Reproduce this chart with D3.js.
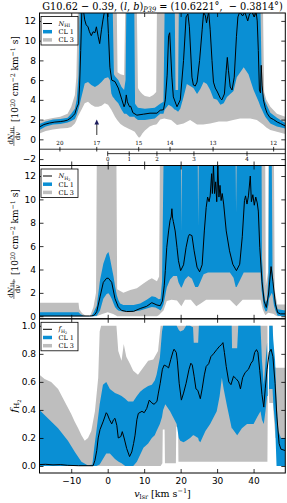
<!DOCTYPE html>
<html>
<head>
<meta charset="utf-8">
<script src="https://cdn.jsdelivr.net/npm/d3@7"></script>
<style>
  body { margin: 0; background: #fff; }
  svg { display: block; }
  text { white-space: pre; }
</style>
</head>
<body>
<div id="chart"></div>
<script>
// ---- data ----
const xDomain = [-18.7, 48.7];
const xTicks = [-10, 0, 10, 20, 30, 40];
const hiTicks = [-2, 0, 2, 4, 6, 8, 10, 12];
const h2Ticks = [0, 2, 4, 6, 8, 10, 12];
const fTicks = [0, 0.2, 0.4, 0.6, 0.8, 1.0];

// secondary scales drawn inside the top panel (label, velocity)
const outerLabels = [20, 17, 15, 14, 13, 12];
const outerV = [-13.1, -3.0, 8.5, 17.1, 28.9, 45.5];
const innerLabels = [0, 1, 2, 3, 4];
const innerV = [0, 5.9, 13.5, 23.65, 38.2];
const arrowV = -3.0, arrowFrom = 0.45, arrowTo = 2.0;

// dN_HI/dv
const hiLineV = [-18.7,-17.5,-16,-14.5,-13,-12,-11,-10,-9.5,-9,
  -8.5,-8,-7.7,-7.4,-7.1,-6.6,-6.3,-5.9,-5.4,-5,
  -4.5,-4,-3.5,-3.1,-2.6,-2.2,-1.7,-1.3,-0.9,-0.1,
  0.2,0.6,1.1,2,2.9,3.9,4.5,4.8,5.1,5.4,
  6,6.3,6.9,8,9.8,11.6,13.5,14.4,15.3,15.8,
  16.3,16.7,17,17.6,18,19,19.9,20.8,21.5,22,
  22.4,23.1,23.5,24,24.5,25.2,25.9,26.3,26.8,27.1,
  27.4,27.7,28.1,28.6,29,29.5,30.1,30.9,31.3,32,
  32.5,32.8,33.1,33.6,34.1,34.7,35.3,35.7,36.2,37,
  37.6,38.4,38.9,39.5,40.2,40.7,41,41.3,41.6,41.9,
  42.1,42.35,42.7,43.2,43.7,44.5,45.5,46.5,47.4,48.7];
const hiLine = [1.25,1.5,1.65,1.75,1.8,1.85,1.95,2.2,2.4,2.6,
  3.2,3.6,5.5,9,12.9,12.9,12.1,11.6,11.4,10.9,
  10.5,10.9,10.8,11.4,10.4,9.7,11.1,12.1,12.9,12.9,
  10.7,7.3,6,5.85,5.2,4,3.3,3.6,4.5,3.8,
  3.3,3.35,2.7,2.45,2.55,2.65,2.65,2.95,3,4,
  6.5,10.5,10.8,6.3,4.3,3.3,4,8,12.4,12.7,
  11.4,6.3,5.5,5.4,5.8,8,11.1,12.9,12.5,11.8,
  12.4,12.9,11.1,8,5.8,5.2,4.8,4.15,4,4.6,
  7,8.3,7,5.3,5,6.3,10.4,12.4,12.9,12.5,
  12.9,12,12.7,12.9,12.4,12.9,12,9,5,4.7,
  7.5,5.5,4,3.2,2.65,2.2,2,1.75,1.6,1.35];
// [v, low, high]
const hiCl3 = [[-18.7,0.6,1.8],[-17,0.85,2.0],[-15,1.0,2.15],[-13,1.1,2.3],[-11,1.15,2.6],[-10,1.25,3.3],
  [-9,1.6,4.5],[-8.6,1.9,6.3],[-8.2,2.3,12.9],[-7.2,3.0,12.9],[-6.3,3.65,12.9],[-5.4,3.8,12.9],[-4.5,3.5,12.9],
  [-3.5,3.3,12.9],[-2.6,3.3,12.9],[-1.7,3.4,12.9],[-0.8,3.65,12.9],[0.1,3.5,12.9],[1.0,3.0,12.9],[2.0,2.3,12.9],
  [2.5,2.0,12.9],[2.7,1.9,6.8],[3.5,1.55,6.6],[4.5,1.3,6.5],[4.8,1.25,12.9],[5.6,1.1,12.9],[6.5,0.94,12.9],
  [7.4,0.77,12.9],[8.0,0.45,12.9],[8.3,0.3,5.2],[8.6,0.15,5.0],[9.0,0.3,4.8],[9.5,0.6,4.6],[10.2,0.9,4.4],
  [11.5,1.3,4.3],[12.5,1.45,4.5],[13.3,1.5,4.8],[13.5,1.55,12.9],[14.4,2.0,12.9],[15.5,2.1,12.9],[17.4,1.95,12.9],
  [19.0,1.45,12.9],[20.8,1.6,12.9],[22.6,1.95,12.9],[24.5,1.5,12.9],[26.2,1.5,12.9],[28.1,1.6,12.9],[30.5,1.8,12.9],
  [32.7,1.8,12.9],[34.4,1.95,12.9],[36.3,2.1,12.9],[39.1,2.1,12.9],[40.9,1.95,12.9],[42.6,1.5,12.9],[42.9,1.4,4.8],
  [43.5,1.2,4.0],[44.6,0.94,3.3],[46.4,0.77,2.6],[48.7,0.55,2.3]];
const hiCl1 = [[-18.7,0.95,1.55],[-17,1.3,1.8],[-15,1.5,2.0],[-13,1.55,2.05],[-11,1.7,2.2],[-10,1.85,2.6],
  [-9,2.05,3.1],[-8.5,2.5,4.0],[-8.0,3.1,6.5],[-7.7,3.5,12.9],[-7.2,4.3,12.9],[-6.3,5.67,12.9],[-5.4,5.8,12.9],
  [-4.5,5.5,12.9],[-3.5,5.3,12.9],[-2.6,5.5,12.9],[-1.7,5.8,12.9],[-0.8,6.2,12.9],[0.1,6.3,12.9],[0.6,6.0,12.9],
  [1.0,4.65,12.9],[1.4,4.3,12.9],[1.7,4.2,6.6],[2.0,4.0,6.4],[2.9,3.65,6.0],[3.8,3.0,5.3],[4.5,2.6,5.0],
  [4.9,2.6,6.0],[5.1,2.6,12.9],[6.0,2.3,12.9],[7.3,2.3,12.9],[7.5,2.2,3.6],[8.3,1.95,3.2],[10.2,1.95,3.1],
  [12.9,2.1,3.2],[14.4,2.6,3.6],[15.3,2.6,3.8],[15.6,3.0,12.9],[16.7,3.5,12.9],[17.6,3.3,12.9],[18.4,3.0,12.9],
  [18.6,3.0,5.0],[19.3,2.8,5.0],[19.5,2.9,12.9],[19.9,3.1,12.9],[20.8,4.3,12.9],[21.7,5.6,12.9],[23.5,5.2,12.9],
  [24.5,4.6,12.9],[25.4,5.1,12.9],[26.3,5.8,12.9],[27.2,5.6,12.9],[28.1,5.0,12.9],[29.0,4.15,12.9],[30.0,4.0,12.9],
  [30.9,3.5,12.9],[31.8,3.65,12.9],[32.7,4.3,12.9],[33.6,4.6,12.9],[34.5,4.9,12.9],[35.4,6.3,12.9],[37.3,7.3,12.9],
  [38.6,6.6,12.9],[40.0,5.0,12.9],[41.4,3.8,12.9],[41.9,3.3,12.9],[42.3,3.0,5.0],[42.8,2.6,4.4],[43.2,2.3,3.8],
  [44.6,1.6,2.7],[46.4,1.3,2.2],[48.7,1.1,1.65]];

// dN_H2/dv
const h2LineV = [-18.7,-10,-5,-4.5,-4,-3.5,-3,-2.1,-1.2,-0.3,
  0.2,1.1,2.0,2.9,3.8,5.2,7.1,8.9,10.7,12.1,
  13.5,14.4,15,15.5,15.8,16.2,16.7,17.1,17.4,17.6,
  17.8,18,18.5,19,19.4,20,20.8,21.5,22.1,22.4,
  23.1,23.7,24.5,25.2,25.9,26.5,27,27.4,27.8,28.1,
  28.5,28.7,29,29.3,29.6,29.9,30.2,30.5,30.8,31.1,
  31.4,31.8,32.5,33.4,34.3,35.3,36.2,36.9,37.5,37.8,
  38.2,38.6,39.1,39.4,39.8,40.2,40.6,41,41.3,41.7,
  42.3,42.9,43.5,44.1,44.8,45.3,46,46.6,47.4,48.7];
const h2Line = [0.02,0.02,0.02,0.03,0.05,0.15,0.4,1.66,2.9,3.25,
  3.25,2.9,1.5,0.8,0.5,0.4,0.42,0.66,0.85,1.16,
  0.96,0.9,1.3,2.6,3.9,5.9,7.3,8.2,8.5,9.2,
  8.4,8.1,7.3,5.9,4.75,3.9,4.4,5.9,6.8,7.0,
  6.9,5.6,4.2,3.8,4.4,7.3,9.3,10.2,9.8,10.3,
  12.2,10.5,12.9,10.5,11.5,9.8,12.9,10.2,11.2,9.9,
  10.5,9.6,7.3,5.6,4.45,3.9,4.45,6.8,9.9,10.3,
  9.6,10.3,12.0,9.8,10.4,9.5,10.2,9.7,9.0,5.9,
  3.0,1.3,0.75,1.9,4.25,3.0,1.03,0.31,0.2,0.2];
const h2Cl3 = [[-18.7,0,1.15],[-8.0,0,1.15],[-7.8,0,0.6],[-7.0,0,0.25],[-6.0,0,0.05],[-4.8,0,0.05],
  [-3.9,0,0.8],[-3.2,0,2.0],[-3.0,0,12.9],[-1.5,0.2,12.9],[0.0,0.35,12.9],[1.5,0.2,12.9],[2.4,0.05,12.9],
  [2.6,0,2.3],[4.3,0,2.0],[6.2,0,2.25],[8.0,0,2.4],[9.8,0,2.8],[11.2,0,3.1],[12.1,0,3.25],[13.5,0,3.0],
  [14.1,0.1,3.4],[14.3,0.2,12.9],[15.3,0.5,12.9],[16.2,1.3,12.9],[17.5,1.4,12.9],[19.0,1.35,12.9],
  [20.2,0.85,12.9],[21.2,1.4,12.9],[22.8,1.4,12.9],[24.3,0.85,12.9],[25.5,1.1,12.9],[27.0,1.4,12.9],
  [33.5,1.4,12.9],[35.3,0.85,12.9],[37.0,1.4,12.9],[41.9,1.4,12.9],[42.5,0.6,12.9],[42.9,0.3,12.9],
  [43.2,0.1,12.9],[43.35,0.1,2.6],[44.0,0.3,3.8],[44.1,0.3,12.9],[45.6,0.2,12.9],[45.8,0.1,2.2],
  [46.5,0,1.0],[48.7,0,1.0]];
const h2Cl1 = [[-18.7,0,0.35],[-8,0,0.35],[-7.5,0,0.2],[-6.5,0,0.03],[-4.5,0,0.03],[-3.9,0,0.3],
  [-3.0,0.05,0.9],[-2.1,0.5,3.1],[-1.2,1.5,4.5],[-0.3,1.9,5.3],[0.2,1.96,5.5],[0.6,1.8,5.0],[1.1,1.5,4.2],
  [1.6,1.1,3.4],[2.0,0.8,2.6],[2.5,0.6,1.8],[2.9,0.5,1.4],[3.4,0.45,1.1],[4.3,0.4,0.96],[7.1,0.4,0.96],
  [8.9,0.5,1.1],[10.7,0.66,1.4],[12.1,0.8,1.7],[13.1,0.75,1.65],[14.0,0.6,1.45],[14.5,0.5,1.5],
  [14.9,0.7,3.0],[15.3,1.0,12.9],[16.2,2.45,12.9],[17.1,3.15,12.9],[18.0,3.45,12.9],[19.0,3.45,12.9],
  [19.4,2.9,12.9],[20.1,2.45,12.9],[20.2,2.45,7.3],[20.35,2.5,12.9],[21.2,3.15,12.9],[22.1,3.45,12.9],
  [23.1,3.2,12.9],[24.0,2.5,12.9],[24.7,2.5,12.9],[24.8,2.55,7.7],[24.95,2.6,12.9],[26.3,3.6,12.9],
  [27.5,3.75,12.9],[33.5,3.75,12.9],[34.5,3.3,12.9],[35.1,2.5,12.9],[35.2,2.5,8.9],[35.35,2.5,12.9],
  [36.3,3.1,12.9],[37.3,3.75,12.9],[41.9,3.75,12.9],[42.2,2.2,12.9],[42.3,2.0,5.0],[42.8,0.8,2.2],
  [43.3,0.4,1.2],[43.7,0.45,1.4],[44.1,1.0,3.5],[44.2,1.5,12.9],[45.0,2.0,12.9],[45.2,1.8,4.0],
  [45.6,0.9,2.0],[46.0,0.5,1.3],[46.6,0.05,0.6],[48.7,0,0.5]];

// f_H2
const fLineV = [-18.7,-17,-15,-13,-11,-8,-4,-3.5,-3,-2.6,
  -2.1,-1.2,-0.4,-0.1,0.5,1.1,1.6,2,2.5,2.9,
  3.6,4,4.5,5.2,6,6.6,7.1,7.5,8,8.4,
  9.4,10,10.7,11.4,12.1,12.7,13.5,13.9,14.4,15,
  15.5,16.2,16.7,17.3,17.9,18.2,18.8,19.1,19.6,20.2,
  20.8,21.5,22.3,22.8,23.2,23.7,24.2,24.7,25.4,25.9,
  26.5,27,27.7,28.3,29,29.9,30.7,31.2,31.6,32,
  32.5,33.2,33.8,34.5,35.3,35.9,36.4,37,37.7,38.6,
  39.3,39.8,40.3,40.8,41.2,41.7,42.3,42.8,43.2,43.7,
  44.3,44.8,45.3,45.9,46.4,47,47.5,48.7];
const fLine = [0.01,0.012,0.008,0.01,0.005,0.002,0.002,0.04,0.11,0.2,
  0.26,0.32,0.38,0.37,0.33,0.3,0.33,0.34,0.29,0.2,
  0.21,0.245,0.2,0.125,0.067,0.1,0.16,0.22,0.33,0.375,
  0.39,0.38,0.41,0.47,0.45,0.44,0.46,0.52,0.59,0.69,
  0.72,0.71,0.7,0.76,0.815,0.833,0.81,0.75,0.59,0.47,
  0.52,0.59,0.69,0.733,0.72,0.64,0.55,0.54,0.48,0.55,
  0.65,0.71,0.73,0.78,0.8,0.83,0.855,0.865,0.88,0.81,
  0.71,0.6,0.58,0.64,0.62,0.6,0.55,0.63,0.667,0.69,
  0.733,0.75,0.81,0.83,0.81,0.68,0.51,0.42,0.55,0.69,
  0.81,0.833,0.78,0.59,0.35,0.16,0.12,0.11];
const fCl3 = [[-18.7,0,0.65],[-17.3,0,0.62],[-15.5,0,0.6],[-13.6,0,0.55],[-11.8,0,0.46],[-10.0,0,0.37],
  [-9.1,0,0.32],[-8.1,0,0.27],[-7.2,0,0.22],[-6.3,0,0.18],[-5.4,0,0.2],[-4.5,0,0.25],[-3.5,0,0.39],
  [-2.6,0,0.63],[-2.2,0,0.96],[-1.8,0,1.0],[2.4,0,1.0],[2.9,0,0.82],[3.8,0,0.75],[4.4,0,0.87],[5.1,0,0.78],
  [6.1,0,0.73],[7.0,0,0.68],[8.3,0,0.65],[9.7,0,0.7],[11.1,0,0.75],[12.5,0,0.76],[13.8,0,0.82],[14.5,0,1.0],
  [15.0,0.02,1.0],[15.1,0.26,1.0],[15.6,0.26,1.0],[15.7,0.02,1.0],[18.7,0.02,1.0],[18.8,0.28,1.0],
  [19.3,0.28,1.0],[19.4,0.03,1.0],[43.8,0.03,1.0],[43.9,0.5,0.5],[44.2,0.5,0.5],[44.3,0.45,1.0],
  [45.3,0.45,1.0],[45.4,0.4,0.75],[46.0,0.2,0.7],[48.7,0.2,0.7]];
const fCl1 = [[-18.7,0,0.4],[-16.4,0,0.34],[-13.6,0,0.27],[-10.9,0,0.18],[-9.0,0,0.1],[-7.2,0,0.03],
  [-5.4,0,0.003],[-4.2,0,0.01],[-3.7,0,0.13],[-3.1,0,0.25],[-2.2,0.01,0.44],[-1.3,0.05,0.58],[-0.4,0.09,0.6],
  [0.6,0.09,0.55],[2.0,0.05,0.52],[3.0,0.03,0.51],[3.8,0.02,0.5],[4.8,0,0.48],[5.6,0,0.46],[7.0,0,0.46],
  [8.0,0.03,0.5],[8.9,0.08,0.53],[9.8,0.13,0.55],[11.1,0.16,0.57],[12.1,0.2,0.58],[12.9,0.22,0.61],
  [13.4,0.25,0.65],[14.3,0.3,0.77],[14.9,0.35,0.96],[15.2,0.4,1.0],[15.8,0.44,1.0],[17.1,0.39,1.0],
  [18.9,0.3,1.0],[19.5,0.2,0.97],[19.9,0.18,0.96],[20.8,0.17,0.97],[21.5,0.18,1.0],[22.6,0.2,1.0],
  [23.4,0.22,0.99],[23.6,0.22,0.88],[24.8,0.2,0.88],[25.0,0.18,1.0],[25.4,0.17,1.0],[26.8,0.25,1.0],
  [28.1,0.3,1.0],[29.9,0.39,1.0],[30.7,0.5,1.0],[31.3,0.63,1.0],[31.8,0.55,1.0],[32.7,0.43,1.0],
  [34.0,0.27,1.0],[34.1,0.27,0.84],[35.5,0.22,0.84],[35.8,0.23,1.0],[36.8,0.27,1.0],[38.2,0.3,1.0],
  [40.0,0.3,1.0],[41.0,0.35,1.0],[41.9,0.39,1.0],[42.3,0.33,0.75],[42.8,0.3,0.58],[43.3,0.4,0.75],
  [43.7,0.5,0.88],[43.9,0.5,0.5],[44.2,0.5,0.5],[44.3,0.55,1.0],[45.2,0.55,1.0],[45.4,0.45,0.9],
  [45.9,0.3,0.75],[46.3,0,0.45],[46.8,0,0.25],[47.5,0,0.2],[48.7,0,0.2]];

// ---- layout ----
const W = 287, H = 503;
const left = 39.5, right = 285.3;
const blue = "#0a8fd4", grey = "#bebebe";
const serif = "DejaVu Serif";

const panels = [
  { top: 13, bottom: 165.5, domain: [-2.65, 12.8], ticks: hiTicks, fmt: d3.format("d"),
    cl3: hiCl3, cl1: hiCl1, lineV: hiLineV, line: hiLine },
  { top: 165.5, bottom: 318.8, domain: [-0.22, 12.9], ticks: h2Ticks, fmt: d3.format("d"),
    cl3: h2Cl3, cl1: h2Cl1, lineV: h2LineV, line: h2Line },
  { top: 318.8, bottom: 473, domain: [-0.05, 1.05], ticks: fTicks, fmt: d3.format(".1f"),
    cl3: fCl3, cl1: fCl1, lineV: fLineV, line: fLine }
];

const svg = d3.select("#chart").append("svg")
    .attr("width", W)
    .attr("height", H)
    .attr("font-family", "DejaVu Sans");

const x = d3.scaleLinear().domain(xDomain).range([left, right]);

panels.forEach(function (p, i) {
    let y = d3.scaleLinear().domain(p.domain).range([p.bottom, p.top]);
    p.y = y;

    svg.append("clipPath").attr("id", "clip" + i)
        .append("rect")
        .attr("x", left).attr("y", p.top)
        .attr("width", right - left).attr("height", p.bottom - p.top);

    let plot = svg.append("g").attr("clip-path", "url(#clip" + i + ")");

    let band = d3.area()
        .x(d => x(d[0]))
        .y0(d => y(d[1]))
        .y1(d => y(d[2]));

    plot.append("path").datum(p.cl3).attr("d", band).attr("fill", grey);
    plot.append("path").datum(p.cl1).attr("d", band).attr("fill", blue);
    plot.append("path")
        .datum(d3.zip(p.lineV, p.line))
        .attr("d", d3.line().x(d => x(d[0])).y(d => y(d[1])))
        .attr("fill", "none")
        .attr("stroke", "#000")
        .attr("stroke-width", 1)
        .attr("stroke-linejoin", "round");

    // ticks on all four sides, pointing inward
    let isLast = i === panels.length - 1;
    let axes = [
        [d3.axisLeft(y).tickValues(p.ticks).tickFormat(p.fmt).tickPadding(3.5), "translate(" + left + ",0)"],
        [d3.axisRight(y).tickValues(p.ticks).tickFormat(""), "translate(" + right + ",0)"],
        [d3.axisTop(x).tickValues(xTicks).tickFormat(""), "translate(0," + p.top + ")"],
        [d3.axisBottom(x).tickValues(xTicks).tickFormat(isLast ? d3.format("d") : "").tickPadding(5),
            "translate(0," + p.bottom + ")"]
    ];
    axes.forEach(function (a) {
        let g = svg.append("g")
            .attr("transform", a[1])
            .call(a[0].tickSizeInner(-4).tickSizeOuter(0));
        g.select(".domain").remove();
        g.selectAll(".tick line").attr("stroke", "#000").attr("stroke-width", 0.8);
        g.selectAll("text").attr("font-size", 9).attr("fill", "#000").attr("font-family", "DejaVu Sans");
    });

    svg.append("rect")
        .attr("x", left).attr("y", p.top)
        .attr("width", right - left).attr("height", p.bottom - p.top)
        .attr("fill", "none")
        .attr("stroke", "#000")
        .attr("stroke-width", 1);
});

// ---- extra scales and arrow in the top panel ----
let y1 = panels[0].y;
let scaleG = svg.append("g").attr("font-family", serif).attr("font-size", 5.6);
scaleG.append("line")
    .attr("x1", left).attr("x2", right)
    .attr("y1", y1(-1.0)).attr("y2", y1(-1.0))
    .attr("stroke", "#000").attr("stroke-width", 0.8);
outerV.forEach(function (v, k) {
    scaleG.append("line")
        .attr("x1", x(v)).attr("x2", x(v))
        .attr("y1", y1(-1.0) - 2.3).attr("y2", y1(-1.0) + 2.3)
        .attr("stroke", "#000").attr("stroke-width", 0.8);
    scaleG.append("text")
        .attr("x", x(v)).attr("y", y1(-1.0) - 4)
        .attr("text-anchor", "middle")
        .text(outerLabels[k]);
});
scaleG.append("line")
    .attr("x1", x(innerV[0])).attr("x2", right)
    .attr("y1", y1(-1.45)).attr("y2", y1(-1.45))
    .attr("stroke", "#000").attr("stroke-width", 0.8);
innerV.forEach(function (v, k) {
    scaleG.append("line")
        .attr("x1", x(v)).attr("x2", x(v))
        .attr("y1", y1(-1.45) - 2.3).attr("y2", y1(-1.45) + 2.3)
        .attr("stroke", "#000").attr("stroke-width", 0.8);
    scaleG.append("text")
        .attr("x", x(v)).attr("y", y1(-1.45) + 7.5)
        .attr("text-anchor", "middle")
        .text(innerLabels[k]);
});

svg.append("line")
    .attr("x1", x(arrowV)).attr("x2", x(arrowV))
    .attr("y1", y1(arrowFrom)).attr("y2", y1(arrowTo) + 4)
    .attr("stroke", "#555").attr("stroke-width", 1.2);
svg.append("path")
    .attr("d", "M" + x(arrowV) + "," + y1(arrowTo) + "l-2.3,5h4.6z")
    .attr("fill", "#1c1c5e");

// ---- legends ----
function legend(p, kind) {
    let g = svg.append("g")
        .attr("transform", "translate(" + (left + 1.5) + "," + (p.top + 3.5) + ")")
        .attr("font-family", serif)
        .attr("font-size", 6.5);
    g.append("rect")
        .attr("width", 37).attr("height", 28.5)
        .attr("fill", "#fff").attr("stroke", "#000").attr("stroke-width", 0.8);
    let rows = [["#000", 1], [blue, 3.5], [grey, 3.5]];
    rows.forEach(function (r, k) {
        let yy = 7 + k * 8.2;
        g.append("line")
            .attr("x1", 2).attr("x2", 11).attr("y1", yy).attr("y2", yy)
            .attr("stroke", r[0]).attr("stroke-width", r[1]);
    });
    let t = g.append("text").attr("x", 17.5).attr("y", 9.2);
    if (kind === "f") {
        t.append("tspan").attr("font-style", "italic").text("f");
    } else {
        t.append("tspan").attr("font-style", "italic").text("N");
    }
    if (kind === "HI") {
        t.append("tspan").attr("font-size", 4.6).attr("dy", 1.4).text("HI");
    } else {
        t.append("tspan").attr("font-size", 4.6).attr("dy", 1.4).text("H");
        t.append("tspan").attr("font-size", 3.4).attr("dy", 1).text("2");
    }
    g.append("text").attr("x", 17.5).attr("y", 7 + 8.2 + 2.3).text("CL 1");
    g.append("text").attr("x", 17.5).attr("y", 7 + 16.4 + 2.3).text("CL 3");
}
legend(panels[0], "HI");
legend(panels[1], "H2");
legend(panels[2], "f");

// ---- axis labels ----
function densityLabel(cy, kind) {
    let g = svg.append("g")
        .attr("transform", "translate(18," + cy + ") rotate(-90)")
        .attr("font-family", serif);
    let num = g.append("text").attr("x", -47).attr("y", -5.3)
        .attr("text-anchor", "middle").attr("font-size", 7);
    num.append("tspan").text("d");
    num.append("tspan").attr("font-style", "italic").text("N");
    if (kind === "HI") {
        num.append("tspan").attr("font-size", 5).attr("dy", 1.5).text("HI");
    } else {
        num.append("tspan").attr("font-size", 5).attr("dy", 1.5).text("H");
        num.append("tspan").attr("font-size", 3.8).attr("dy", 1).text("2");
    }
    g.append("line")
        .attr("x1", -57).attr("x2", -37).attr("y1", -4.1).attr("y2", -4.1)
        .attr("stroke", "#000").attr("stroke-width", 0.5);
    let den = g.append("text").attr("x", -47).attr("y", 1.6)
        .attr("text-anchor", "middle").attr("font-size", 7);
    den.append("tspan").text("d");
    den.append("tspan").attr("font-style", "italic").text("v");

    let br = g.append("text").attr("x", -33).attr("y", 0).attr("font-size", 9);
    br.append("tspan").text("[10");
    br.append("tspan").attr("font-size", 6.3).attr("dy", -3.5).text("20");
    br.append("tspan").attr("dy", 3.5).text(" cm");
    br.append("tspan").attr("font-size", 6.3).attr("dy", -3.5).text("\u22122");
    br.append("tspan").attr("dy", 3.5).text(" km");
    br.append("tspan").attr("font-size", 6.3).attr("dy", -3.5).text("\u22121");
    br.append("tspan").attr("dy", 3.5).text(" s]");
}
densityLabel(89, "HI");
densityLabel(242, "H2");

let fl = svg.append("text")
    .attr("transform", "translate(17,406) rotate(-90)")
    .attr("text-anchor", "middle")
    .attr("font-family", serif)
    .attr("font-size", 10);
fl.append("tspan").attr("font-style", "italic").text("f");
fl.append("tspan").attr("font-size", 7).attr("dy", 2).text("H");
fl.append("tspan").attr("font-size", 5).attr("dy", 1.5).text("2");

let xl = svg.append("text")
    .attr("x", 162.5).attr("y", 497)
    .attr("text-anchor", "middle")
    .attr("font-family", serif)
    .attr("font-size", 9.5);
xl.append("tspan").attr("font-style", "italic").text("v");
xl.append("tspan").attr("font-size", 6.5).attr("dy", 2).text("lsr");
xl.append("tspan").attr("dy", -2).text(" [km s");
xl.append("tspan").attr("font-size", 6.5).attr("dy", -4).text("\u22121");
xl.append("tspan").attr("dy", 4).text("]");

// ---- title ----
let title = svg.append("text")
    .attr("x", 162.5).attr("y", 9.5)
    .attr("text-anchor", "middle")
    .attr("font-family", serif)
    .attr("font-size", 11);
title.append("tspan").text("G10.62 \u2212 0.39, (");
title.append("tspan").attr("font-style", "italic").text("l");
title.append("tspan").text(", ");
title.append("tspan").attr("font-style", "italic").text("b");
title.append("tspan").text(")");
title.append("tspan").attr("font-size", 7.5).attr("font-style", "italic").attr("dy", 2.5).text("P39");
title.append("tspan").attr("dy", -2.5).text(" = (10.6221\u00b0,  \u2212 0.3814\u00b0)");
let tw = title.node().getBBox().width;
title.attr("transform", "translate(162.5,0) scale(" + (241 / tw) + ",1) translate(-162.5,0)");
</script>
</body>
</html>
